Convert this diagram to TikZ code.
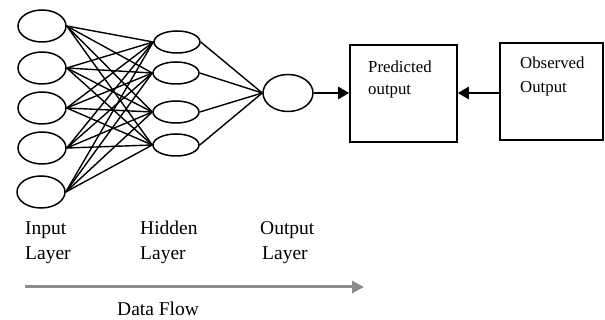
\documentclass[tikz,border=0pt]{standalone}
\usepackage{fontspec}
\setmainfont{Liberation Serif}
\usetikzlibrary{arrows.meta,shapes.geometric}
\begin{document}
\begin{tikzpicture}[x=1pt,y=-1pt,
  neuron/.style={draw,ellipse,line width=1.5pt,inner sep=0pt},
  inneuron/.style={neuron,minimum width=48pt,minimum height=32pt},
  hidneuron/.style={neuron,minimum width=46pt,minimum height=22pt},
  outneuron/.style={neuron,minimum width=50pt,minimum height=37pt},
  conn/.style={line width=1.4pt},
  box/.style={draw,line width=1.6pt,inner sep=0pt},
  flow/.style={line width=2.6pt,-{Triangle[length=11pt,width=12pt]}},
  lbl/.style={anchor=base west,inner sep=0pt,font=\fontsize{19.5}{22}\selectfont},
  boxlbl/.style={anchor=base west,inner sep=0pt,font=\fontsize{16.8}{19}\selectfont}]
\useasboundingbox (0,0) rectangle (605,320);
% input layer
\node[inneuron] (i1) at (42,26) {};
\node[inneuron] (i2) at (42,68) {};
\node[inneuron] (i3) at (42,108) {};
\node[inneuron] (i4) at (42,148) {};
\node[inneuron] (i5) at (41,192) {};
% hidden layer
\node[hidneuron] (h1) at (177,42) {};
\node[hidneuron] (h2) at (176,73) {};
\node[hidneuron] (h3) at (176,112) {};
\node[hidneuron] (h4) at (176,145) {};
% output
\node[outneuron] (o) at (288,93) {};
\foreach \i in {1,...,5}{
  \foreach \h in {1,...,4}{
    \draw[conn] (i\i.east) -- (h\h.west);
  }
}
\foreach \h in {1,...,4}{
  \draw[conn] (h\h.east) -- (o.west);
}
% boxes
\node[box,minimum width=107pt,minimum height=97pt] (pred) at (403.5,93.5) {};
\node[box,minimum width=103pt,minimum height=97pt] (obs) at (551.5,91.5) {};
\node[boxlbl] (pt1) at (368,73) {Predicted};
\node[boxlbl] (pt2) at (368,95) {output};
\node[boxlbl] (ot1) at (520,69) {Observed};
\node[boxlbl] (ot2) at (520,93) {Output};
\draw[flow] (o.east) -- (o.east -| pred.west);
\draw[flow] (obs.west |- o.east) -- (pred.east |- o.east);
% labels
\node[lbl] (l1a) at (25,235) {Input};
\node[lbl] (l1b) at (25,260) {Layer};
\node[lbl] (l2a) at (140,235) {Hidden};
\node[lbl] (l2b) at (140,260) {Layer};
\node[lbl] (l3a) at (260,235) {Output};
\node[lbl] (l3b) at (262,260) {Layer};
\coordinate (fs) at (25,287);
\coordinate (fe) at (364,287);
\draw[line width=3pt,color=gray!90,-{Triangle[length=12pt,width=12pt]}] (fs) -- (fe);
\node[lbl] (df) at (117,316) {Data Flow};
\end{tikzpicture}
\end{document}
